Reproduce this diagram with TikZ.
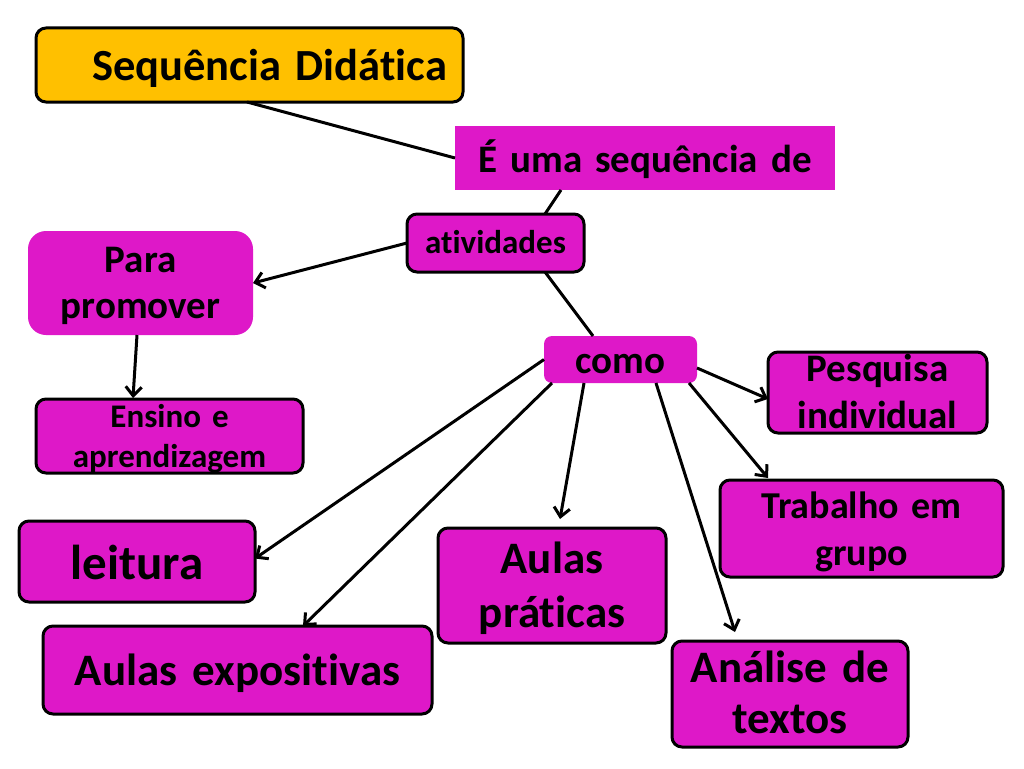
\documentclass[tikz,border=0pt]{standalone}
\usepackage{fontspec}
\setmainfont{Carlito}[Ligatures=NoCommon]
\usetikzlibrary{arrows.meta,calc}
\definecolor{mag}{RGB}{222,24,200}
\definecolor{gold}{RGB}{255,192,0}
\newcommand{\fsz}[2]{\fontsize{#1}{#2}\selectfont\bfseries}
\tikzset{
  box/.style={rectangle, inner xsep=0pt, inner ysep=0pt, outer sep=0pt, align=center},
  bordered/.style={draw=black, line width=3pt},
  mbox/.style={box, fill=mag, rounded corners=10pt},
  conn/.style={line width=3pt, draw=black},
  arr/.style={conn, -{Straight Barb[length=9pt,width=16pt]}},
}
\begin{document}
\begin{tikzpicture}[x=1pt,y=-1pt]
\fill[white] (0,0) rectangle (1024,768);
\useasboundingbox (0,0) rectangle (1024,768);

\node[box, fill=gold, rounded corners=10pt, bordered, inner xsep=16pt, align=right,
  text width=395pt, minimum height=74pt, text height=30pt, text depth=0pt,
  font=\fsz{44.5}{52}] (seq) at (249.5,65) {Sequência Didática};

\node[box, fill=mag, text width=380pt, minimum height=64pt,
  text height=28pt, text depth=0pt, font=\fsz{39}{47}] (e) at (645,158) {É uma sequência de};

\node[mbox, bordered, text width=177pt, minimum height=58pt,
  text height=20pt, text depth=0pt, font=\fsz{33}{40}] (ativ) at (495.5,243) {atividades};

\node[mbox, rounded corners=18pt, text width=225pt, minimum height=104pt,
  text height=0pt, text depth=22pt, font=\fsz{39}{46}] (para) at (140.5,283) {Para\\promover};

\node[mbox, bordered, text width=267pt, minimum height=74pt,
  text height=0pt, text depth=18pt, font=\fsz{33}{40}] (ensino) at (169.5,436) {Ensino e\\aprendizagem};

\node[mbox, rounded corners=8pt, text width=153pt, minimum height=47pt,
  text height=27pt, text depth=0pt, font=\fsz{39}{47}] (como) at (620.5,359.5) {como};

\node[mbox, bordered, text width=219pt, minimum height=81pt,
  text height=0pt, text depth=23pt, font=\fsz{39}{47}] (pesq) at (877.5,392.5) {Pesquisa\\individual};

\node[mbox, bordered, text width=283pt, minimum height=97pt,
  text height=0pt, text depth=21pt, font=\fsz{38}{47}] (trab) at (861.5,528.5) {Trabalho em\\grupo};

\node[mbox, bordered, text width=236pt, minimum height=81pt,
  text height=35pt, text depth=0pt, font=\fsz{49}{58}] (leit) at (137,561.5) {leitura};

\node[mbox, bordered, text width=389pt, minimum height=88pt,
  text height=30pt, text depth=0pt, font=\fsz{45}{54}] (expo) at (237.5,670) {Aulas expositivas};

\node[mbox, bordered, text width=228pt, minimum height=115pt,
  text height=0pt, text depth=25pt, font=\fsz{45}{54}] (prat) at (552,585.5) {Aulas\\práticas};

\node[mbox, bordered, text width=236pt, minimum height=106pt,
  text height=0pt, text depth=24pt, font=\fsz{45}{51}] (anal) at (790,694) {Análise de\\textos};

% connectors
\draw[conn] ($(seq.south west)+(211,0)$) -- (e.west);
\draw[conn] ($(e.south west)+(106,0)$) -- ($(ativ.north west)+(138,0)$);
\draw[arr] (ativ.west) -- (para.east);
\draw[conn] ($(ativ.south west)+(138,0)$) -- ($(como.north west)+(49,0)$);
\draw[arr] ($(para.south west)+(109,0)$) -- ($(ensino.north west)+(97,-1)$);
\draw[arr] (como.west) -- ($(leit.east)+(0,-3)$);
\draw[arr] ($(como.south west)+(8,0)$) -- ($(expo.north west)+(260,0)$);
\draw[arr] ($(como.south west)+(40,0)$) -- ($(prat.north west)+(122,-9)$);
\draw[arr] ($(como.south west)+(112,0)$) -- ($(anal.north west)+(63,-9)$);
\draw[arr] ($(como.south east)+(-8,0)$) -- ($(trab.north west)+(48,-2)$);
\draw[arr] ($(como.east)+(0,8.5)$) -- ($(pesq.west)+(0,6.5)$);
\end{tikzpicture}
\end{document}
